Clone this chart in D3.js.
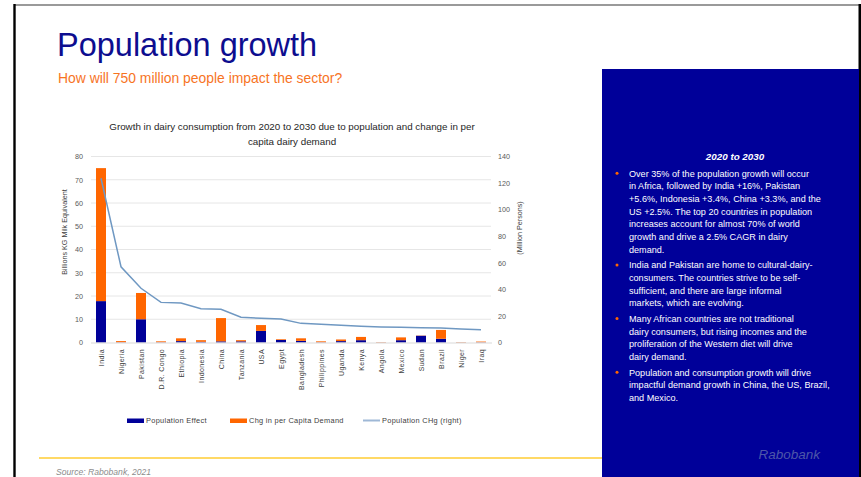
<!DOCTYPE html>
<html>
<head>
<meta charset="utf-8">
<script src="https://cdn.jsdelivr.net/npm/d3@7"></script>
<style>
  html, body { margin: 0; padding: 0; background: #fff; }
  svg { display: block; }
  text { font-family: "Liberation Sans", Arial, sans-serif; }
</style>
</head>
<body>
<svg id="chart" width="861" height="477"></svg>
<script>
// ---------------- DATA ----------------
const categories = ["India", "Nigeria", "Pakistan", "D.R. Congo", "Ethiopia", "Indonesia", "China", "Tanzania", "USA", "Egypt",
  "Bangladesh", "Philippines", "Uganda", "Kenya", "Angola", "Mexico", "Sudan", "Brazil", "Niger", "Iraq"];
// Billions KG milk equivalent
const populationEffect = [17.8, 0.1, 10.0, 0.1, 0.6, 0.3, 0.5, 0.5, 5.0, 1.1, 0.7, 0.1, 0.6, 1.0, 0.05, 1.0, 2.9, 1.6, 0.05, 0.1];
const chgPerCapita     = [57.2, 0.5, 11.3, 0.4, 1.2, 0.7, 10.0, 0.5, 2.5, 0.3, 1.1, 0.4, 0.7, 1.4, 0.15, 1.2, 0.1, 3.8, 0.15, 0.3];
// Million persons (right axis)
const populationChange = [123.6, 57.0, 40.8, 30.2, 29.7, 25.4, 25.0, 19.0, 18.2, 17.7, 14.4, 13.7, 12.9, 12.2, 11.7, 11.5, 11.1, 11.0, 10.2, 9.6];
const leftTicks  = [0, 10, 20, 30, 40, 50, 60, 70, 80];
const rightTicks = [0, 20, 40, 60, 80, 100, 120, 140];
const seriesNames = ["Population Effect", "Chg in per Capita Demand", "Population CHg (right)"];

const pageTitle = "Population growth";
const pageSubtitle = "How will 750 million people impact the sector?";
const chartTitle = ["Growth in dairy consumption from 2020 to 2030 due to population and change in per", "capita dairy demand"];
const panelHeading = "2020 to 2030";
const bullets = [
  ["Over 35% of the population growth will occur", "in Africa, followed by India +16%, Pakistan", "+5.6%, Indonesia +3.4%, China +3.3%, and the",
   "US +2.5%. The top 20 countries in population", "increases account for almost 70% of world", "growth and drive a 2.5% CAGR in dairy", "demand."],
  ["India and Pakistan are home to cultural-dairy-", "consumers. The countries strive to be self-", "sufficient, and there are large informal", "markets, which are evolving."],
  ["Many African countries are not traditional", "dairy consumers, but rising incomes and the", "proliferation of the Western diet will drive", "dairy demand."],
  ["Population and consumption growth will drive", "impactful demand growth in China, the US, Brazil,", "and Mexico."]
];
const sourceText = "Source: Rabobank, 2021";
const brandText = "Rabobank";

// ---------------- DRAW ----------------
const svg = d3.select("#chart");
const navy = "#000099", orange = "#ff6600", lineBlue = "#6f98c2";

// page frame
svg.append("line").attr("x1", 14).attr("x2", 861).attr("y1", 5).attr("y2", 5).attr("stroke", "#9a9a9a").attr("stroke-width", 2);
svg.append("line").attr("x1", 14.5).attr("x2", 14.5).attr("y1", 4).attr("y2", 477).attr("stroke", "#000").attr("stroke-width", 2.4);
svg.append("line").attr("x1", 859.8).attr("x2", 859.8).attr("y1", 4).attr("y2", 477).attr("stroke", "#000").attr("stroke-width", 2.6);

// titles
svg.append("text").attr("x", 57).attr("y", 56).attr("font-size", 32.5).attr("fill", "#0d0d8f").text(pageTitle);
svg.append("text").attr("x", 58).attr("y", 83).attr("font-size", 13.9).attr("fill", "#f7741f").text(pageSubtitle);

// chart
const x0 = 91, x1 = 491, yTop = 156.5, yBot = 342.5;
const x = d3.scaleBand().domain(categories).range([x0, x1]).paddingInner(0.5).paddingOuter(0.25);
const yL = d3.scaleLinear().domain([0, 80]).range([yBot, yTop]);
const yR = d3.scaleLinear().domain([0, 140]).range([yBot, yTop]);

const g = svg.append("g");
chartTitle.forEach((t, i) => {
  g.append("text").attr("x", 292).attr("y", 130 + i * 15).attr("text-anchor", "middle")
    .attr("font-size", 9.8).attr("fill", "#262626").text(t);
});

// gridlines
g.append("g").selectAll("line").data(leftTicks.slice(1)).join("line")
  .attr("x1", x0).attr("x2", x1).attr("y1", d => yL(d)).attr("y2", d => yL(d))
  .attr("stroke", "#e6e6e6").attr("stroke-width", 1);

// left axis
const axL = g.append("g").attr("transform", `translate(${x0 - 7},0)`)
  .call(d3.axisLeft(yL).tickValues(leftTicks).tickSize(0).tickPadding(1));
axL.select(".domain").remove();
axL.selectAll("text").attr("font-size", 7.2).attr("fill", "#595959").attr("font-family", "Liberation Sans, Arial, sans-serif");

// right axis
const axR = g.append("g").attr("transform", `translate(${x1 + 7},0)`)
  .call(d3.axisRight(yR).tickValues(rightTicks).tickSize(0).tickPadding(0));
axR.select(".domain").remove();
axR.selectAll("text").attr("font-size", 7.2).attr("fill", "#595959").attr("font-family", "Liberation Sans, Arial, sans-serif");

// axis titles
g.append("text").attr("transform", `translate(67,232) rotate(-90)`).attr("text-anchor", "middle")
  .attr("font-size", 7.2).attr("fill", "#404040").text("Billions KG Milk Equivalent");
g.append("text").attr("transform", `translate(522,228) rotate(-90)`).attr("text-anchor", "middle")
  .attr("font-size", 7.2).attr("fill", "#404040").text("(Million Persons)");

// stacked bars
const rows = categories.map((c, i) => ({ cat: c, pop: populationEffect[i], chg: chgPerCapita[i] }));
const stack = d3.stack().keys(["pop", "chg"])(rows);
const colors = { pop: navy, chg: orange };
g.append("g").selectAll("g").data(stack).join("g").attr("fill", d => colors[d.key])
  .selectAll("rect").data(d => d).join("rect")
  .attr("x", d => x(d.data.cat)).attr("width", x.bandwidth())
  .attr("y", d => yL(d[1])).attr("height", d => Math.max(0, yL(d[0]) - yL(d[1])));

// baseline
g.append("line").attr("x1", x0).attr("x2", x1 + 1).attr("y1", yBot + 0.5).attr("y2", yBot + 0.5)
  .attr("stroke", "#d9d9d9").attr("stroke-width", 1);

// line series
const line = d3.line().x((d, i) => x(categories[i]) + x.bandwidth() / 2).y(d => yR(d));
g.append("path").datum(populationChange).attr("d", line).attr("fill", "none")
  .attr("stroke", lineBlue).attr("stroke-width", 1.5);

// category labels
g.append("g").selectAll("text").data(categories).join("text")
  .attr("transform", d => `translate(${x(d) + x.bandwidth() / 2 + 2.5},349) rotate(-90)`)
  .attr("text-anchor", "end").attr("font-size", 7).attr("letter-spacing", 0.4)
  .attr("fill", "#404040").text(d => d);

// legend
const lg = g.append("g");
const legendItems = [
  { name: seriesNames[0], x: 127, type: "rect", color: navy },
  { name: seriesNames[1], x: 230, type: "rect", color: orange },
  { name: seriesNames[2], x: 363, type: "line", color: "#9fb8d6" }
];
legendItems.forEach(it => {
  if (it.type === "rect") {
    lg.append("rect").attr("x", it.x).attr("y", 418.5).attr("width", 17).attr("height", 4.5).attr("fill", it.color);
  } else {
    lg.append("line").attr("x1", it.x).attr("x2", it.x + 17).attr("y1", 420.5).attr("y2", 420.5)
      .attr("stroke", it.color).attr("stroke-width", 2);
  }
  lg.append("text").attr("x", it.x + 19).attr("y", 423).attr("font-size", 7.4).attr("letter-spacing", 0.3)
    .attr("fill", "#404040").text(it.name);
});

// yellow separator
svg.append("line").attr("x1", 39).attr("x2", 602).attr("y1", 458).attr("y2", 458).attr("stroke", "#ffd966").attr("stroke-width", 2.2);
svg.append("text").attr("x", 56).attr("y", 475).attr("font-size", 8.6).attr("font-style", "italic")
  .attr("fill", "#8c8c8c").text(sourceText);

// blue panel
svg.append("rect").attr("x", 602).attr("y", 69).attr("width", 257).attr("height", 408).attr("fill", navy);
svg.append("text").attr("x", 735).attr("y", 160).attr("text-anchor", "middle").attr("font-size", 9.8)
  .attr("font-weight", "bold").attr("font-style", "italic").attr("fill", "#fff").text(panelHeading);

let yy = 173.3;
const lh = 12.7, gap = 2.8;
bullets.forEach(lines => {
  svg.append("circle").attr("cx", 617).attr("cy", yy).attr("r", 1.5).attr("fill", orange);
  lines.forEach(l => {
    svg.append("text").attr("x", 629).attr("y", yy + 3.3).attr("font-size", 9.1).attr("fill", "#fff").text(l);
    yy += lh;
  });
  yy += gap;
});

svg.append("text").attr("x", 820).attr("y", 459).attr("text-anchor", "end").attr("font-size", 13.5)
  .attr("font-style", "italic").attr("fill", "#4d57a8").text(brandText);
</script>
</body>
</html>
